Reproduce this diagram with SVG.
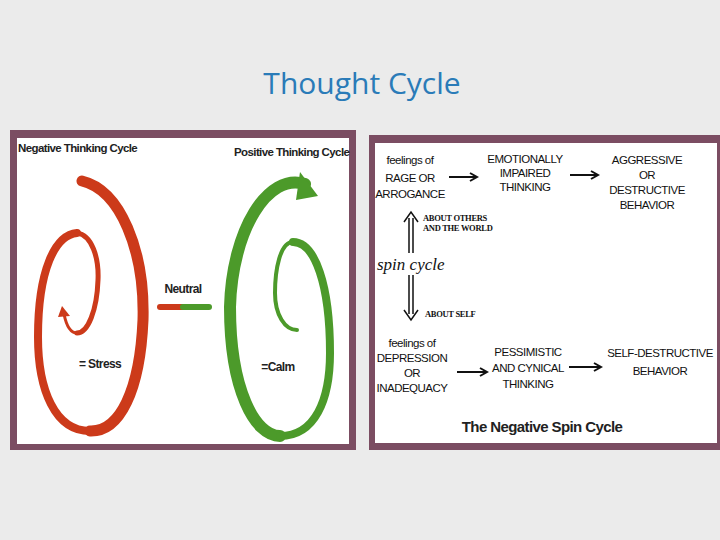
<svg xmlns="http://www.w3.org/2000/svg" width="720" height="540" viewBox="0 0 720 540">
<defs>
<style>
.t{font-family:"Liberation Sans",Arial,sans-serif;font-size:11.5px;letter-spacing:-0.5px;fill:#111;text-anchor:middle}
.s{font-family:"Liberation Serif",serif;font-size:8.5px;font-weight:bold;fill:#111;letter-spacing:-0.3px}
.b{font-family:"Liberation Sans",Arial,sans-serif;font-weight:bold;fill:#222;letter-spacing:-0.6px}
.r{fill:none;stroke:#cc3a1a;stroke-linecap:round}
.g{fill:none;stroke:#4c9a2a;stroke-linecap:round}
.a{stroke:#111;stroke-width:2;fill:none}
</style>
<marker id="ah" markerWidth="10" markerHeight="10" refX="8" refY="5" orient="auto" markerUnits="userSpaceOnUse"><path d="M1,1 L8,5 L1,9" fill="none" stroke="#111" stroke-width="2"/></marker>
</defs>
<rect width="720" height="540" fill="#ebebeb"/>
<text x="362" y="94" font-family="Open Sans,Lato,sans-serif" font-size="30" fill="#2a7bb8" text-anchor="middle">Thought Cycle</text>
<g id="leftpanel">
<rect x="10" y="130" width="346" height="320" fill="#7b4d62"/>
<rect x="17" y="138" width="332" height="306" fill="#fff"/>
<text x="18" y="152" class="b" font-size="11.5">Negative Thinking Cycle</text>
<text x="234" y="156" class="b" font-size="11.5">Positive Thinking Cycle</text>
<path class="r" stroke-width="11" d="M82,181 C120,190 145,250 143,320 C140,390 120,432 90,431"/>
<path class="r" stroke-width="8" d="M90,431 C55,431 38,390 38,337 C38,270 55,235 77,233"/>
<path class="r" stroke-width="5" d="M77,233 C92,235 99,258 98,280 C97,310 88,333 77,333"/>
<path class="r" stroke-width="3" d="M77,333 C70,333 66,324 64,314"/>
<polygon points="62,306 70,316 58,317" fill="#cc3a1a"/>
<path class="g" stroke-width="12" d="M305,184 C268,172 232,230 230,307 C230,390 255,436 280,436"/>
<path class="g" stroke-width="8" d="M280,436 C315,436 330,400 330,353 C330,285 315,242 293,242"/>
<path class="g" stroke-width="4" d="M293,242 C280,242 275,270 275,293 C275,315 285,330 297,330"/>
<polygon points="300,172 318,196 296,200" fill="#4c9a2a"/>
<text x="183" y="293" class="b" font-size="12" text-anchor="middle">Neutral</text>
<line x1="160" y1="307" x2="183" y2="307" stroke="#cc3a1a" stroke-width="6" stroke-linecap="round"/>
<line x1="183" y1="307" x2="209" y2="307" stroke="#4c9a2a" stroke-width="6" stroke-linecap="round"/>
<text x="100" y="368" class="b" font-size="12" text-anchor="middle">= Stress</text>
<text x="278" y="371" class="b" font-size="12" text-anchor="middle">=Calm</text>
</g>
<g id="rightpanel">
<rect x="369" y="135" width="351" height="315" fill="#7b4d62"/>
<rect x="375" y="143" width="342" height="300" fill="#fff"/>
</g>
<g id="n1"><text class="t" x="410" y="164">feelings of</text><text class="t" x="410" y="182">RAGE  OR</text><text class="t" x="410" y="198">ARROGANCE</text></g>
<g id="n2"><text class="t" x="525" y="163">EMOTIONALLY</text><text class="t" x="525" y="177">IMPAIRED</text><text class="t" x="525" y="191">THINKING</text></g>
<g id="n3"><text class="t" x="647" y="164">AGGRESSIVE</text><text class="t" x="647" y="179">OR</text><text class="t" x="647" y="194">DESTRUCTIVE</text><text class="t" x="647" y="209">BEHAVIOR</text></g>
<g id="n4"><text class="t" x="412" y="347">feelings of</text><text class="t" x="412" y="362">DEPRESSION</text><text class="t" x="412" y="377">OR</text><text class="t" x="412" y="392">INADEQUACY</text></g>
<g id="n5"><text class="t" x="528" y="356">PESSIMISTIC</text><text class="t" x="528" y="372">AND CYNICAL</text><text class="t" x="528" y="388">THINKING</text></g>
<g id="n6"><text class="t" x="660" y="357">SELF-DESTRUCTIVE</text><text class="t" x="660" y="375">BEHAVIOR</text></g>
<g id="spin"><text x="377" y="270" font-family="Liberation Serif,serif" font-style="italic" font-size="17" fill="#111">spin cycle</text></g>
<g id="connectors">
<line class="a" x1="449" y1="177" x2="477" y2="177" marker-end="url(#ah)"/>
<line class="a" x1="570" y1="175" x2="598" y2="175" marker-end="url(#ah)"/>
<line class="a" x1="457" y1="372" x2="487" y2="372" marker-end="url(#ah)"/>
<line class="a" x1="569" y1="367" x2="601" y2="367" marker-end="url(#ah)"/>
<path d="M409,253 V218 M413,253 V218 M404,222 L411,212 L418,222" stroke="#111" stroke-width="1.5" fill="none"/>
<path d="M409,275 V314 M413,275 V314 M404,310 L411,320 L418,310" stroke="#111" stroke-width="1.5" fill="none"/>
<text class="s" x="423" y="221">ABOUT OTHERS</text>
<text class="s" x="423" y="231">AND THE WORLD</text>
<text class="s" x="425" y="317">ABOUT SELF</text>
</g>
<text x="542" y="432" class="b" font-size="15" text-anchor="middle">The Negative Spin Cycle</text>
</svg>
